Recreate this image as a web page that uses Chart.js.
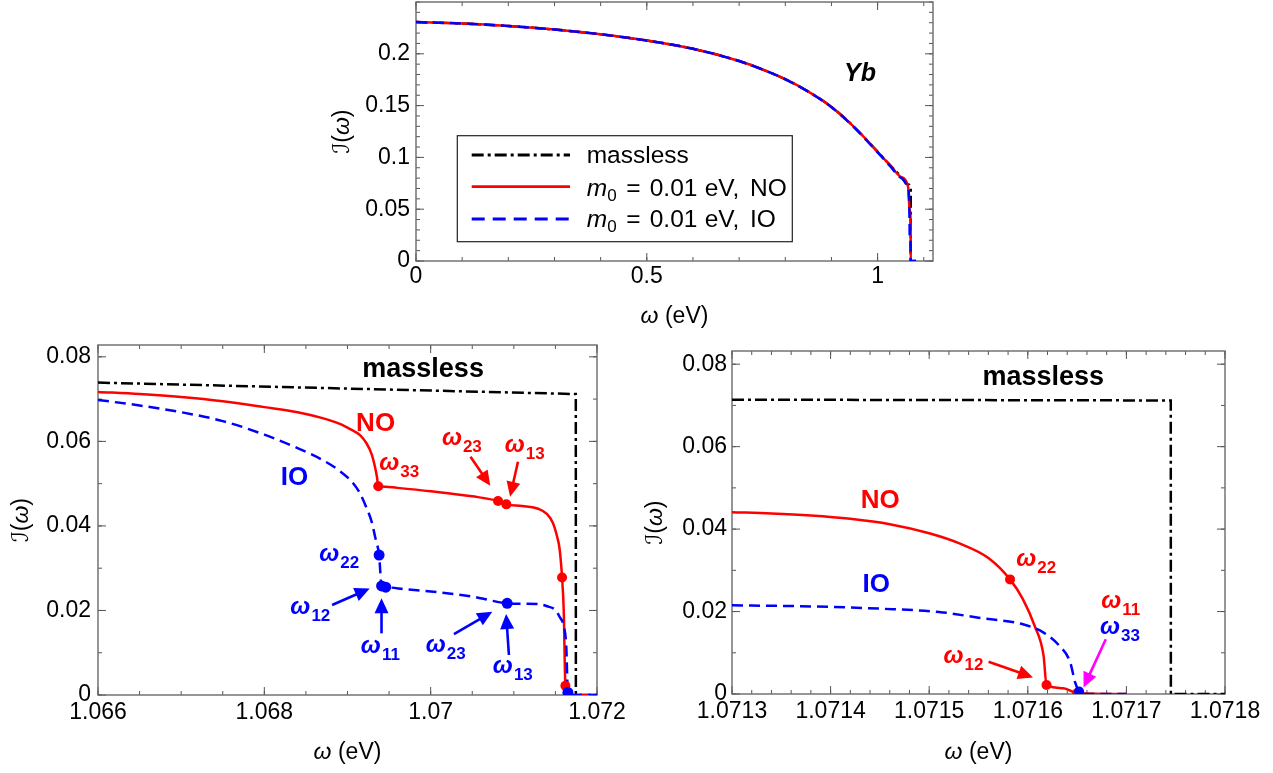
<!DOCTYPE html>
<html><head><meta charset="utf-8">
<script src="https://cdn.jsdelivr.net/npm/chart.js@4.4.1/dist/chart.umd.min.js"></script>
<style>
html,body{margin:0;padding:0;background:#fff;width:1273px;height:773px;overflow:hidden;position:relative}
canvas{position:absolute}
</style></head><body>
<canvas id="cTop" width="630" height="335" style="left:320px;top:0px"></canvas>
<canvas id="cBL" width="640" height="433" style="left:0px;top:340px"></canvas>
<canvas id="cBR" width="643" height="433" style="left:630px;top:340px"></canvas>
<script>
// ---------------- DATA ----------------
// Top panel (full spectrum)
const topMasslessW = [0, 0.1, 0.2, 0.3, 0.4, 0.5, 0.6, 0.7, 0.75, 0.8, 0.85, 0.9, 0.95, 1.0, 1.03, 1.05, 1.066, 1.071745, 1.071746, 1.083];
const topMasslessI = [0.2306, 0.2292, 0.2268, 0.2234, 0.2188, 0.2128, 0.2048, 0.1930, 0.1850, 0.1755, 0.1635, 0.1488, 0.1290, 0.1055, 0.0912, 0.0818, 0.0739, 0.0712, 0, 0];
const topNOW = [0, 0.1, 0.2, 0.3, 0.4, 0.5, 0.6, 0.7, 0.75, 0.8, 0.85, 0.9, 0.95, 1.0, 1.03, 1.05, 1.066, 1.06937, 1.07091, 1.07158, 1.07165, 1.083];
const topNOI = [0.2306, 0.2292, 0.2268, 0.2234, 0.2188, 0.2128, 0.2048, 0.1930, 0.1850, 0.1755, 0.1635, 0.1487, 0.1289, 0.1053, 0.0908, 0.0812, 0.0717, 0.0494, 0.0451, 0.0278, 0, 0];
const topIOW = [0, 0.1, 0.2, 0.3, 0.4, 0.5, 0.6, 0.7, 0.75, 0.8, 0.85, 0.9, 0.95, 1.0, 1.03, 1.05, 1.066, 1.06938, 1.06946, 1.07092, 1.07163, 1.07166, 1.083];
const topIOI = [0.2306, 0.2292, 0.2268, 0.2234, 0.2188, 0.2128, 0.2048, 0.1930, 0.1849, 0.1754, 0.1634, 0.1485, 0.1286, 0.1049, 0.0902, 0.0804, 0.0698, 0.0331, 0.0255, 0.0217, 0.0117, 0, 0];
const topXTicks = [0, 0.5, 1];
const topXLabels = ['0', '0.5', '1'];
const topYTicks = [0, 0.05, 0.1, 0.15, 0.2];
const topYLabels = ['0', '0.05', '0.1', '0.15', '0.2'];
const legendLabels = ['massless', 'NO', 'IO'];

// Bottom-left panel (1.066 - 1.072 eV)
const blMasslessW = [1.066, 1.0717, 1.071745, 1.071746, 1.0721];
const blMasslessI = [0.0739, 0.07122, 0.0712, 0, 0];
const blNOW = [1.066, 1.0665, 1.067, 1.0675, 1.068, 1.0684, 1.0687, 1.0689, 1.06905, 1.06915, 1.06923, 1.06929, 1.06933, 1.069355, 1.06937, 1.0694, 1.0696, 1.07, 1.0705, 1.07081, 1.07091, 1.0711, 1.0713, 1.0714, 1.07147, 1.07152, 1.07155, 1.07158, 1.0716, 1.07162, 1.07165, 1.0717, 1.0721];
const blNOI = [0.0717, 0.0712, 0.0705, 0.0695, 0.0681, 0.0669, 0.0655, 0.0642, 0.0627, 0.0615, 0.0595, 0.057, 0.054, 0.0515, 0.0494, 0.04935, 0.049, 0.0482, 0.047, 0.0459, 0.0451, 0.0447, 0.044, 0.0428, 0.0407, 0.0375, 0.0346, 0.0278, 0.02, 0.0022, 0.0002, 0, 0];
const blIOW = [1.066, 1.0665, 1.067, 1.0675, 1.068, 1.0684, 1.0687, 1.0689, 1.06905, 1.06915, 1.06923, 1.06929, 1.06934, 1.06938, 1.06941, 1.06946, 1.0697, 1.07, 1.0705, 1.07092, 1.0711, 1.0713, 1.0714, 1.0715, 1.07155, 1.0716, 1.07163, 1.07165, 1.0717, 1.0721];
const blIOI = [0.0698, 0.0685, 0.0669, 0.0648, 0.0616, 0.0584, 0.0556, 0.0531, 0.0505, 0.0477, 0.0442, 0.041, 0.0367, 0.0331, 0.0258, 0.0255, 0.025, 0.0245, 0.0233, 0.0217, 0.0216, 0.0215, 0.021, 0.0201, 0.0185, 0.0163, 0.0117, 0.0006, 0, 0];
const blNODotW = [1.06937, 1.07081, 1.07091, 1.07158, 1.07162];
const blNODotI = [0.0494, 0.0459, 0.0451, 0.0278, 0.0022];
const blIODotW = [1.06938, 1.06941, 1.06946, 1.07092, 1.07165];
const blIODotI = [0.0331, 0.0258, 0.0255, 0.0217, 0.0006];
const blXTicks = [1.066, 1.068, 1.07, 1.072];
const blXLabels = ['1.066', '1.068', '1.07', '1.072'];
const bottomYTicks = [0, 0.02, 0.04, 0.06, 0.08];
const bottomYLabels = ['0', '0.02', '0.04', '0.06', '0.08'];

// Bottom-right panel (1.0713 - 1.0718 eV)
const brMasslessW = [1.0713, 1.071745, 1.0717451, 1.0718];
const brMasslessI = [0.0714, 0.0712, 0, 0];
const brNOW = [1.0713, 1.07134, 1.07138, 1.07142, 1.07146, 1.0715, 1.07153, 1.07156, 1.071582, 1.071595, 1.071607, 1.071616, 1.071619, 1.071636, 1.07165, 1.0717];
const brNOI = [0.0441, 0.0438, 0.0433, 0.0425, 0.0412, 0.039, 0.0366, 0.033, 0.0278, 0.023, 0.0165, 0.0093, 0.0022, 0.0014, 0.0002, 0];
const brIOW = [1.0713, 1.07137, 1.07145, 1.07151, 1.07155, 1.071595, 1.071616, 1.071632, 1.071643, 1.071648, 1.071652, 1.071655, 1.0717];
const brIOI = [0.0215, 0.0213, 0.0207, 0.0199, 0.0185, 0.0169, 0.0149, 0.0117, 0.0077, 0.0028, 0.0006, 0, 0];
const brNODotW = [1.071582, 1.071619, 1.07165];
const brNODotI = [0.0278, 0.0022, 0.0002];
const brIODotW = [1.071652];
const brIODotI = [0.0006];
const brXTicks = [1.0713, 1.0714, 1.0715, 1.0716, 1.0717, 1.0718];
const brXLabels = ['1.0713', '1.0714', '1.0715', '1.0716', '1.0717', '1.0718'];

// ---------------- STYLE ----------------
const RED = '#ff0000', BLUE = '#0000ff', BLACK = '#000000', MAG = '#ff00ff';
const FONT = "'Liberation Sans', Arial, sans-serif";
Chart.defaults.font.family = FONT;
const DASHDOT = [12, 4, 3, 4];
const DASH = [11, 6];

function pts(xs, ys) { return xs.map((x, i) => ({x: x, y: ys[i]})); }
function lineDS(label, xs, ys, color, dash, order, mono) {
  return {label, data: pts(xs, ys), showLine: true, borderColor: color, backgroundColor: color,
    borderWidth: 2.5, borderDash: dash, pointRadius: 0, pointHoverRadius: 0, order,
    cubicInterpolationMode: mono ? 'monotone' : 'default', tension: 0, borderCapStyle: 'butt'};
}
function dotDS(label, xs, ys, color, order, r) {
  return {label, data: pts(xs, ys), showLine: false, pointRadius: r || 5, pointHoverRadius: 0,
    pointBackgroundColor: color, pointBorderColor: color, pointBorderWidth: 0, order};
}
function minors(min, max, step) {
  const out = []; const k0 = Math.ceil(min / step - 1e-6), k1 = Math.floor(max / step + 1e-6);
  for (let k = k0; k <= k1; k++) out.push(k * step);
  return out;
}

// annotation config per canvas (positions in data units)
const ANN = {
  cTop: {
    xMinor: 0.1, yMinor: 0.01, xTicks: topXTicks, yTicks: topYTicks, fs: 23,
    xTitleOff: 56, yTitleOff: 73,
    words: [{t: 'Yb', x: 0.962, y: 0.182, c: BLACK, f: 'italic bold 25px ' + FONT}],
    omegas: [], arrows: [], legend: true
  },
  cBL: {
    xMinor: 0.0005, yMinor: 0.01, xTicks: blXTicks, yTicks: bottomYTicks, fs: 23,
    xTitleOff: 58, yTitleOff: 76,
    words: [
      {t: 'massless', x: 1.069909, y: 0.0776, c: BLACK, f: 'bold 27px ' + FONT},
      {t: 'NO', x: 1.069338, y: 0.0646, c: RED, f: 'bold 26px ' + FONT},
      {t: 'IO', x: 1.068363, y: 0.0520, c: BLUE, f: 'bold 26px ' + FONT}
    ],
    omegas: [
      {s: '33', x: 1.069623, y: 0.0540, c: RED},
      {s: '23', x: 1.070375, y: 0.0599, c: RED},
      {s: '13', x: 1.071131, y: 0.0583, c: RED},
      {s: '22', x: 1.068901, y: 0.0323, c: BLUE},
      {s: '12', x: 1.068553, y: 0.0199, c: BLUE},
      {s: '11', x: 1.069395, y: 0.01064, c: BLUE},
      {s: '23', x: 1.070180, y: 0.0108, c: BLUE},
      {s: '13', x: 1.070988, y: 0.0059, c: BLUE}
    ],
    arrows: [
      {x1: 1.070479, y1: 0.05636, x2: 1.070717, y2: 0.0495, c: RED},
      {x1: 1.071050, y1: 0.0552, x2: 1.070955, y2: 0.0469, c: RED},
      {x1: 1.068815, y1: 0.0213, x2: 1.069267, y2: 0.0252, c: BLUE},
      {x1: 1.069409, y1: 0.01458, x2: 1.069409, y2: 0.02286, c: BLUE},
      {x1: 1.070280, y1: 0.01442, x2: 1.070741, y2: 0.0197, c: BLUE},
      {x1: 1.070941, y1: 0.00946, x2: 1.070907, y2: 0.01915, c: BLUE}
    ]
  },
  cBR: {
    xMinor: 0.00002, yMinor: 0.01, xTicks: brXTicks, yTicks: bottomYTicks, fs: 23,
    xTitleOff: 59, yTitleOff: 76,
    words: [
      {t: 'massless', x: 1.0716156, y: 0.0772, c: BLACK, f: 'bold 27px ' + FONT},
      {t: 'NO', x: 1.0714504, y: 0.0475, c: RED, f: 'bold 26px ' + FONT},
      {t: 'IO', x: 1.0714463, y: 0.0270, c: BLUE, f: 'bold 26px ' + FONT}
    ],
    omegas: [
      {s: '22', x: 1.0716086, y: 0.03166, c: RED},
      {s: '11', x: 1.0716943, y: 0.0216, c: RED},
      {s: '33', x: 1.0716934, y: 0.0153, c: BLUE},
      {s: '12', x: 1.0715348, y: 0.0083, c: RED}
    ],
    arrows: [
      {x1: 1.0715602, y1: 0.00781, x2: 1.0716053, y2: 0.00403, c: RED},
      {x1: 1.0716791, y1: 0.0133, x2: 1.0716566, y2: 0.0016, c: MAG}
    ]
  }
};

function drawOmega(ctx, cx, cy, sub, color) {
  const f1 = 'italic bold 24px ' + FONT, f2 = 'bold 17px ' + FONT;
  ctx.font = f1; const w1 = ctx.measureText('ω').width;
  ctx.font = f2; const w2 = ctx.measureText(sub).width;
  const x0 = cx - (w1 + w2 + 1) / 2, base = cy + 3;
  ctx.fillStyle = color; ctx.textBaseline = 'alphabetic'; ctx.textAlign = 'left';
  ctx.font = f1; ctx.fillText('ω', x0, base);
  ctx.font = f2; ctx.fillText(sub, x0 + w1 + 1, base + 7);
}
function drawArrow(ctx, x1, y1, x2, y2, color) {
  const ang = Math.atan2(y2 - y1, x2 - x1), hl = 15, hw = 7;
  const bx = x2 - hl * Math.cos(ang), by = y2 - hl * Math.sin(ang);
  ctx.strokeStyle = color; ctx.fillStyle = color; ctx.lineWidth = 2.6; ctx.setLineDash([]);
  ctx.beginPath(); ctx.moveTo(x1, y1); ctx.lineTo(bx + 2 * Math.cos(ang), by + 2 * Math.sin(ang)); ctx.stroke();
  ctx.beginPath(); ctx.moveTo(x2, y2);
  ctx.lineTo(bx + hw * Math.sin(ang), by - hw * Math.cos(ang));
  ctx.lineTo(bx - hw * Math.sin(ang), by + hw * Math.cos(ang));
  ctx.closePath(); ctx.fill();
}
function drawLegend(ctx, ca) {
  const L = ca.left + 41.3, T = ca.top + 133.7, W = 335, H = 106;
  ctx.save();
  ctx.fillStyle = '#fff'; ctx.fillRect(L, T, W, H);
  ctx.strokeStyle = '#222'; ctx.lineWidth = 1.2; ctx.setLineDash([]);
  ctx.strokeRect(L, T, W, H);
  const rows = [
    {ly: 19.3, by: 27.6, color: BLACK, dash: DASHDOT},
    {ly: 51, by: 60.3, color: RED, dash: []},
    {ly: 83.3, by: 91, color: BLUE, dash: [13, 8]}
  ];
  const tx = L + 129.4;
  rows.forEach((r, i) => {
    ctx.strokeStyle = r.color; ctx.lineWidth = 2.8; ctx.setLineDash(r.dash);
    ctx.beginPath(); ctx.moveTo(L + 14.4, T + r.ly); ctx.lineTo(L + 112.7, T + r.ly); ctx.stroke();
    ctx.setLineDash([]); ctx.fillStyle = '#000'; ctx.textBaseline = 'alphabetic'; ctx.textAlign = 'left';
    const b = T + r.by;
    if (i === 0) {
      ctx.font = '24.5px ' + FONT; ctx.fillText(legendLabels[0], tx, b);
    } else {
      ctx.font = 'italic 24.5px ' + FONT; ctx.fillText('m', tx, b);
      ctx.font = '17px ' + FONT; ctx.fillText('0', tx + 20.5, b + 5);
      ctx.font = '24.5px ' + FONT;
      ctx.fillText('=', tx + 39.5, b);
      ctx.fillText('0.01', tx + 63, b);
      ctx.fillText('eV,', tx + 118, b);
      ctx.fillText(legendLabels[i], tx + 163.3, b);
    }
  });
  ctx.restore();
}

const framePlugin = {
  id: 'frameAnn',
  beforeDatasetsDraw(chart) {
    const a = ANN[chart.canvas.id]; const ctx = chart.ctx, ca = chart.chartArea;
    const x = chart.scales.x, y = chart.scales.y;
    ctx.save();
    ctx.strokeStyle = '#555'; ctx.lineWidth = 1; ctx.setLineDash([]);
    const vt = (v, len) => { const p = x.getPixelForValue(v); ctx.beginPath(); ctx.moveTo(p, ca.bottom); ctx.lineTo(p, ca.bottom - len); ctx.moveTo(p, ca.top); ctx.lineTo(p, ca.top + len); ctx.stroke(); };
    const ht = (v, len) => { const p = y.getPixelForValue(v); ctx.beginPath(); ctx.moveTo(ca.left, p); ctx.lineTo(ca.left + len, p); ctx.moveTo(ca.right, p); ctx.lineTo(ca.right - len, p); ctx.stroke(); };
    minors(x.min, x.max, a.xMinor).forEach(v => vt(v, 4));
    a.xTicks.forEach(v => vt(v, 8));
    minors(y.min, y.max, a.yMinor).forEach(v => ht(v, 4));
    a.yTicks.forEach(v => ht(v, 8));
    ctx.strokeStyle = '#6a6a6a'; ctx.lineWidth = 1.4;
    ctx.strokeRect(ca.left, ca.top, ca.right - ca.left, ca.bottom - ca.top);
    ctx.restore();
  },
  afterDatasetsDraw(chart) {
    const a = ANN[chart.canvas.id]; const ctx = chart.ctx, ca = chart.chartArea;
    const x = chart.scales.x, y = chart.scales.y;
    ctx.save();
    a.arrows.forEach(r => drawArrow(ctx, x.getPixelForValue(r.x1), y.getPixelForValue(r.y1), x.getPixelForValue(r.x2), y.getPixelForValue(r.y2), r.c));
    a.omegas.forEach(o => drawOmega(ctx, x.getPixelForValue(o.x), y.getPixelForValue(o.y), o.s, o.c));
    a.words.forEach(w => {
      ctx.font = w.f; ctx.fillStyle = w.c; ctx.textAlign = 'center'; ctx.textBaseline = 'alphabetic';
      const size = parseFloat(w.f.match(/(\d+)px/)[1]);
      ctx.fillText(w.t, x.getPixelForValue(w.x), y.getPixelForValue(w.y) + 0.36 * size);
    });
    if (a.legend) drawLegend(ctx, ca);
    // axis titles
    const fs = a.fs;
    ctx.fillStyle = '#000'; ctx.textBaseline = 'middle'; ctx.textAlign = 'left';
    const fI = 'italic ' + fs + 'px ' + FONT, fR = fs + 'px ' + FONT;
    ctx.font = fI; const wo = ctx.measureText('ω').width;
    ctx.font = fR; const we = ctx.measureText(' (eV)').width;
    let sx = (ca.left + ca.right) / 2 - (wo + we) / 2, sy = ca.bottom + a.xTitleOff;
    ctx.font = fI; ctx.fillText('ω', sx, sy);
    ctx.font = fR; ctx.fillText(' (eV)', sx + wo, sy);
    ctx.translate(ca.left - a.yTitleOff, (ca.top + ca.bottom) / 2); ctx.rotate(-Math.PI / 2);
    const fS = fs + "px 'DejaVu Sans', " + FONT;
    ctx.font = fS; const w1 = ctx.measureText('ℐ').width;
    ctx.font = fR; const w2 = ctx.measureText('(').width;
    ctx.font = fI; const w3 = ctx.measureText('ω').width;
    ctx.font = fR; const w4 = ctx.measureText(')').width;
    let px = -(w1 + w2 + w3 + w4) / 2;
    ctx.font = fS; ctx.fillText('ℐ', px, 0); px += w1;
    ctx.font = fR; ctx.fillText('(', px, 0); px += w2;
    ctx.font = fI; ctx.fillText('ω', px, 0); px += w3;
    ctx.font = fR; ctx.fillText(')', px, 0);
    ctx.restore();
  }
};

function zeroPad(s) { s.paddingTop = 0; s.paddingBottom = 0; s.paddingLeft = 0; s.paddingRight = 0; }

function makeChart(id, c) {
  const chart = new Chart(document.getElementById(id), {
    type: 'scatter',
    data: {datasets: c.datasets},
    options: {
      responsive: false, animation: false, devicePixelRatio: 1,
      layout: {autoPadding: false, padding: Object.assign({}, c.pad)},
      events: [],
      plugins: {legend: {display: false}, tooltip: {enabled: false}},
      scales: {
        x: {type: 'linear', min: c.xMin, max: c.xMax,
          grid: {display: false, drawTicks: false}, border: {display: false},
          ticks: {padding: c.xPad, color: '#000', font: {size: c.fs}, maxRotation: 0, autoSkip: false,
            callback: (v, i) => c.xLabels[i]},
          afterBuildTicks: s => { s.ticks = c.xTicks.map(v => ({value: v})); },
          afterFit: s => { s.height = c.xH; zeroPad(s); }},
        y: {type: 'linear', min: c.yMin, max: c.yMax,
          grid: {display: false, drawTicks: false}, border: {display: false},
          ticks: {padding: c.yPad, color: '#000', font: {size: c.fs}, autoSkip: false,
            callback: (v, i) => c.yLabels[i]},
          afterBuildTicks: s => { s.ticks = c.yTicks.map(v => ({value: v})); },
          afterFit: s => { s.width = c.yW; zeroPad(s); }}
      }
    },
    plugins: [framePlugin]
  });
  // nudge padding so that the plot area lands exactly on the target frame
  for (let k = 0; k < 2; k++) {
    const ca = chart.chartArea, p = chart.options.layout.padding;
    const np = {
      top: p.top + (c.area.top - ca.top),
      left: p.left + (c.area.left - ca.left),
      right: p.right + (ca.right - c.area.right),
      bottom: p.bottom + (ca.bottom - c.area.bottom)
    };
    chart.options.layout.padding = np;
    chart.update();
  }
  return chart;
}

makeChart('cTop', {
  datasets: [
    lineDS('massless', topMasslessW, topMasslessI, BLACK, DASHDOT, 3, true),
    lineDS('NO', topNOW, topNOI, RED, [], 2, true),
    lineDS('IO', topIOW, topIOI, BLUE, DASH, 1, true)
  ],
  pad: {top: 2, right: 17, left: 0, bottom: 0},
  area: {left: 96, top: 2, right: 613, bottom: 261},
  xMin: 0, xMax: 1.12, yMin: 0, yMax: 0.25,
  xTicks: topXTicks, xLabels: topXLabels, yTicks: topYTicks, yLabels: topYLabels,
  fs: 23, xPad: 2, yPad: 6, xH: 74, yW: 96
});

makeChart('cBL', {
  datasets: [
    lineDS('massless', blMasslessW, blMasslessI, BLACK, DASHDOT, 4, false),
    lineDS('NO', blNOW, blNOI, RED, [], 3, true),
    lineDS('IO', blIOW, blIOI, BLUE, DASH, 2, true),
    dotDS('NO thresholds', blNODotW, blNODotI, RED, 1, 5),
    dotDS('IO thresholds', blIODotW, blIODotI, BLUE, 0, 5.5)
  ],
  pad: {top: 5, right: 43, left: 0, bottom: 0},
  area: {left: 98, top: 5, right: 597, bottom: 355},
  xMin: 1.066, xMax: 1.072, yMin: 0, yMax: 0.0828,
  xTicks: blXTicks, xLabels: blXLabels, yTicks: bottomYTicks, yLabels: bottomYLabels,
  fs: 23, xPad: 4, yPad: 7, xH: 78, yW: 98
});

makeChart('cBR', {
  datasets: [
    lineDS('massless', brMasslessW, brMasslessI, BLACK, DASHDOT, 4, false),
    lineDS('NO', brNOW, brNOI, RED, [], 3, true),
    lineDS('IO', brIOW, brIOI, BLUE, DASH, 2, true),
    dotDS('NO thresholds', brNODotW, brNODotI, RED, 1, 5),
    dotDS('IO thresholds', brIODotW, brIODotI, BLUE, 0, 5)
  ],
  pad: {top: 11, right: 48, left: 0, bottom: 0},
  area: {left: 102, top: 11, right: 595, bottom: 354},
  xMin: 1.0713, xMax: 1.0718, yMin: 0, yMax: 0.0832,
  xTicks: brXTicks, xLabels: brXLabels, yTicks: bottomYTicks, yLabels: bottomYLabels,
  fs: 23, xPad: 4, yPad: 5, xH: 79, yW: 102
});
</script>
</body></html>
